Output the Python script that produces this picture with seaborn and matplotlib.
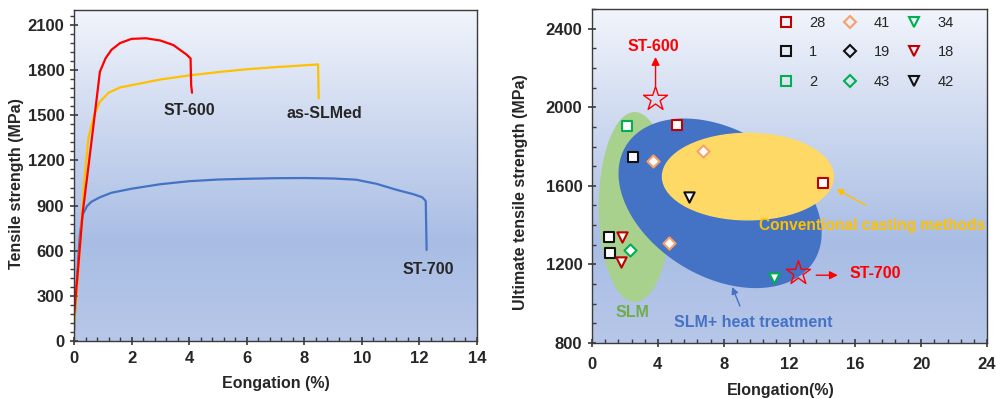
import matplotlib.pyplot as plt
import numpy as np
import pandas as pd
import seaborn as sns
from matplotlib.colors import LinearSegmentedColormap
from matplotlib.lines import Line2D
from matplotlib.patches import Ellipse
from matplotlib.ticker import MultipleLocator

# ---- left panel: tensile curves (elongation %, strength MPa)
st600_x = [0, 0.15, 0.3, 0.5, 0.67, 0.9, 1.1, 1.3, 1.6, 2.0, 2.5, 3.0, 3.45, 3.9, 4.05, 4.07, 4.1]
st600_y = [160, 500, 850, 1157, 1423, 1790, 1880, 1935, 1980, 2008, 2012, 1997, 1967, 1905, 1878, 1700, 1650]

slm_x = [0, 0.2, 0.35, 0.5, 0.7, 0.9, 1.2, 1.6, 2.0, 3.0, 4.0, 5.0, 6.0, 7.0, 8.0, 8.48, 8.5]
slm_y = [100, 600, 1050, 1350, 1500, 1590, 1650, 1685, 1700, 1738, 1765, 1787, 1806, 1820, 1832, 1838, 1612]

st700_x = [0, 0.1, 0.2, 0.3, 0.45, 0.6, 0.9, 1.3, 2.0, 3.0, 4.0, 5.0, 6.0, 7.0, 8.0, 9.0, 9.8,
           10.5, 11.2, 11.8, 12.1, 12.22, 12.25]
st700_y = [70, 400, 700, 840, 895, 925, 955, 985, 1012, 1042, 1062, 1073, 1078, 1082, 1083, 1080,
           1072, 1045, 1005, 975, 955, 930, 605]

# ---- right panel: UTS vs elongation from references
refs = ["28", "1", "2", "41", "19", "43", "34", "18", "42"]
ref_markers = ["s", "s", "s", "D", "D", "D", "v", "v", "v"]
ref_colors = ["#c00000", "#111111", "#00b050", "#f8a06a", "#111111", "#00b050",
              "#00b050", "#c00000", "#111111"]
ref_x = [[5.16, 14.05], [2.49, 1.01, 1.11], [2.12], [3.70, 6.73, 4.69], [], [2.28],
         [11.06], [1.82, 1.76], [5.92]]
ref_y = [[1912, 1614], [1745, 1338, 1257], [1906], [1728, 1777, 1308], [], [1274],
         [1130], [1338, 1211], [1545]]

star_x = [3.86, 12.54]
star_y = [2041, 1155]

# shaded regions: (center x, center y, half width, half height)
slm_region = (2.6, 1492, 2.15, 480)
cast_region = (9.47, 1647, 5.19, 220)
heat_region = (7.78, 1511, 6.17, 404)
heat_shear = -152

sns.set_style("ticks")
plt.rcParams["font.family"] = ["Liberation Sans", "DejaVu Sans"]
plt.rcParams["font.weight"] = "bold"
plt.rcParams["axes.labelweight"] = "bold"

bg = LinearSegmentedColormap.from_list(
    "bg", [(0, "#b7c7e9"), (0.3, "#a9bde4"), (1, "#f1f4fb")]
)
grad = np.linspace(0, 1, 256).reshape(-1, 1)

fig = plt.figure(figsize=(9.96, 3.99), dpi=100)
ax1 = fig.add_axes([0.0743, 0.1454, 0.4046, 0.8296])
ax2 = fig.add_axes([0.5944, 0.1404, 0.3966, 0.837])

for ax in (ax1, ax2):
    ax.imshow(grad, cmap=bg, aspect="auto", extent=[0, 1, 0, 1],
              transform=ax.transAxes, origin="lower", zorder=0)
    for sp in ax.spines.values():
        sp.set_color("#3a3a3a")
        sp.set_linewidth(1.0)
    ax.tick_params(which="major", direction="inout", length=6, width=1.2,
                   labelsize=12, color="#3a3a3a", pad=4)
    ax.tick_params(which="minor", direction="in", length=3, width=1, color="#3a3a3a")
    ax.tick_params(axis="y", which="minor", direction="out")

# left panel
sns.lineplot(x=st700_x, y=st700_y, sort=False, estimator=None, color="#4472c4", lw=1.6, ax=ax1)
sns.lineplot(x=slm_x, y=slm_y, sort=False, estimator=None, color="#ffc000", lw=1.6, ax=ax1)
sns.lineplot(x=st600_x, y=st600_y, sort=False, estimator=None, color="#ff0000", lw=1.6, ax=ax1)

ax1.text(4.0, 1530, "ST-600", ha="center", va="center", fontsize=11.5, weight="bold")
ax1.text(8.7, 1512, "as-SLMed", ha="center", va="center", fontsize=11.5, weight="bold")
ax1.text(12.3, 474, "ST-700", ha="center", va="center", fontsize=11.5, weight="bold")

ax1.set_xlim(0, 14)
ax1.set_ylim(0, 2200)
ax1.xaxis.set_major_locator(MultipleLocator(2))
ax1.xaxis.set_minor_locator(MultipleLocator(0.4))
ax1.yaxis.set_major_locator(MultipleLocator(300))
ax1.yaxis.set_minor_locator(MultipleLocator(60))
ax1.set_xlabel("Eongation (%)", fontsize=11.5)
ax1.set_ylabel("Tensile strength (MPa)", fontsize=11.5)
ax1.xaxis.set_label_coords(0.5, -0.106)
ax1.yaxis.set_label_coords(-0.124, 0.477)

# right panel regions
cx, cy, rx, ry = slm_region
ax2.add_patch(Ellipse((cx, cy), 2 * rx, 2 * ry, color="#a9d18e", zorder=1))
cx, cy, rx, ry = heat_region
t = np.linspace(0, 2 * np.pi, 300)
ax2.fill(cx + rx * np.cos(t), cy + ry * np.sin(t) + heat_shear * np.cos(t),
         color="#4472c4", zorder=2, lw=0)
cx, cy, rx, ry = cast_region
ax2.add_patch(Ellipse((cx, cy), 2 * rx, 2 * ry, color="#ffd966", zorder=3))

sizes = {"s": 55, "D": 38, "v": 55}
handles = []
for ref, m, c, xs, ys in zip(refs, ref_markers, ref_colors, ref_x, ref_y):
    if xs:
        sns.scatterplot(x=xs, y=ys, marker=m, s=sizes[m], color="white", edgecolor=c,
                        linewidth=1.5, zorder=5, ax=ax2)
    handles.append(Line2D([], [], ls="none", marker=m, markersize=np.sqrt(sizes[m]),
                          markerfacecolor="none", markeredgecolor=c, markeredgewidth=1.5,
                          label=ref))

sns.scatterplot(x=star_x, y=star_y, marker="*", s=330, color="none", edgecolor="#ff0000",
                linewidth=1.0, zorder=6, ax=ax2)

ax2.annotate("", xy=(3.86, 2270), xytext=(3.86, 2095),
             arrowprops=dict(arrowstyle="-|>", color="#ff0000", lw=1, mutation_scale=12))
ax2.text(3.7, 2311, "ST-600", color="#ff0000", ha="center", va="center", fontsize=11.5,
         weight="bold")
ax2.annotate("", xy=(15.1, 1145), xytext=(13.45, 1145),
             arrowprops=dict(arrowstyle="-|>", color="#ff0000", lw=1, mutation_scale=12))
ax2.text(17.2, 1152, "ST-700", color="#ff0000", ha="center", va="center", fontsize=11.5,
         weight="bold")

ax2.annotate("", xy=(8.45, 1098), xytext=(9.05, 975),
             arrowprops=dict(arrowstyle="-|>", color="#4472c4", lw=1, mutation_scale=10))
ax2.text(9.8, 902, "SLM+ heat treatment", color="#4472c4", ha="center", va="center",
         fontsize=11.5, weight="bold")
ax2.text(2.43, 956, "SLM", color="#70ad47", ha="center", va="center", fontsize=11.5,
         weight="bold")
ax2.annotate("", xy=(14.7, 1590), xytext=(16.8, 1494),
             arrowprops=dict(arrowstyle="-|>", color="#ffc000", lw=1, mutation_scale=10))
ax2.text(17.0, 1396, "Conventional casting methods", color="#ffc000", ha="center",
         va="center", fontsize=11.2, weight="bold", zorder=7)

ax2.legend(handles=handles, ncol=3, frameon=False, loc="upper left",
           bbox_to_anchor=(0.435, 1.018), labelspacing=1.05,
           columnspacing=1.1, handletextpad=1.0, handlelength=1.2,
           prop={"weight": "normal", "size": 10.5})

ax2.set_xlim(0, 24)
ax2.set_ylim(800, 2500)
ax2.xaxis.set_major_locator(MultipleLocator(4))
ax2.xaxis.set_minor_locator(MultipleLocator(0.8))
ax2.yaxis.set_major_locator(MultipleLocator(400))
ax2.yaxis.set_minor_locator(MultipleLocator(100))
ax2.tick_params(axis="y", which="minor", direction="in")
ax2.tick_params(axis="x", which="major", pad=7)
ax2.set_xlabel("Elongation(%)", fontsize=11.5)
ax2.set_ylabel("Ultimate tensile strength (MPa)", fontsize=11.5)
ax2.xaxis.set_label_coords(0.477, -0.12)
ax2.yaxis.set_label_coords(-0.162, 0.452)

fig.savefig("out.png", dpi=100)
